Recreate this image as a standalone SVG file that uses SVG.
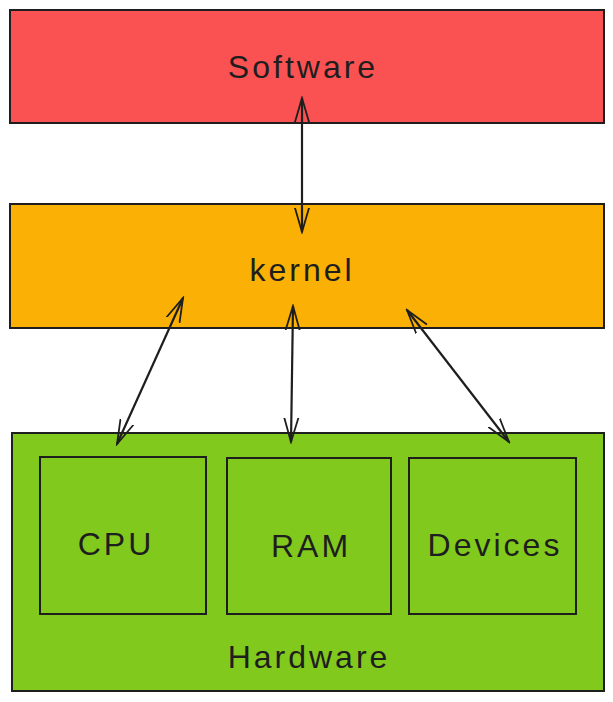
<svg xmlns="http://www.w3.org/2000/svg" width="613" height="702" viewBox="0 0 613 702">
<defs>
<marker id="ah" viewBox="0 0 26 20" refX="24" refY="10" markerWidth="26" markerHeight="20" markerUnits="userSpaceOnUse" orient="auto-start-reverse">
<path d="M0,3 L24,10 L0,17" fill="none" stroke="#1e1e1e" stroke-width="1.8" stroke-linecap="round"/>
</marker>
</defs>
<style>
.box{stroke:#1e1e1e;stroke-width:2;}
.lbl{font-family:"Liberation Sans",Arial,sans-serif;font-size:32px;letter-spacing:3px;fill:#1e1e1e;text-anchor:middle;dominant-baseline:central;}
.conn{stroke:#1e1e1e;stroke-width:2.2;fill:none;marker-start:url(#ah);marker-end:url(#ah);}
</style>
<rect width="613" height="702" fill="#ffffff"/>
<g id="software">
<rect class="box" x="10" y="10" width="594" height="113" fill="#fa5252"/>
<text class="lbl" x="303" y="67">Software</text>
</g>
<g id="kernel">
<rect class="box" x="10" y="204" width="594" height="124" fill="#fab005"/>
<text class="lbl" x="302" y="270">kernel</text>
</g>
<g id="hardware">
<rect class="box" x="12" y="433" width="592" height="258" fill="#82c91e"/>
<text class="lbl" x="309" y="657">Hardware</text>
</g>
<g id="cpu">
<rect class="box" x="40" y="457" width="166" height="157" fill="#82c91e"/>
<text class="lbl" x="116" y="544">CPU</text>
</g>
<g id="ram">
<rect class="box" x="227" y="458" width="164" height="156" fill="#82c91e"/>
<text class="lbl" x="311" y="546">RAM</text>
</g>
<g id="devices">
<rect class="box" x="409" y="458" width="167" height="156" fill="#82c91e"/>
<text class="lbl" x="495" y="545">Devices</text>
</g>
<g id="connectors">
<line class="conn" x1="302" y1="98" x2="302" y2="232"/>
<line class="conn" x1="183" y1="298" x2="117" y2="444"/>
<line class="conn" x1="293" y1="306" x2="291" y2="442"/>
<line class="conn" x1="407" y1="310" x2="509" y2="442"/>
</g>
</svg>
